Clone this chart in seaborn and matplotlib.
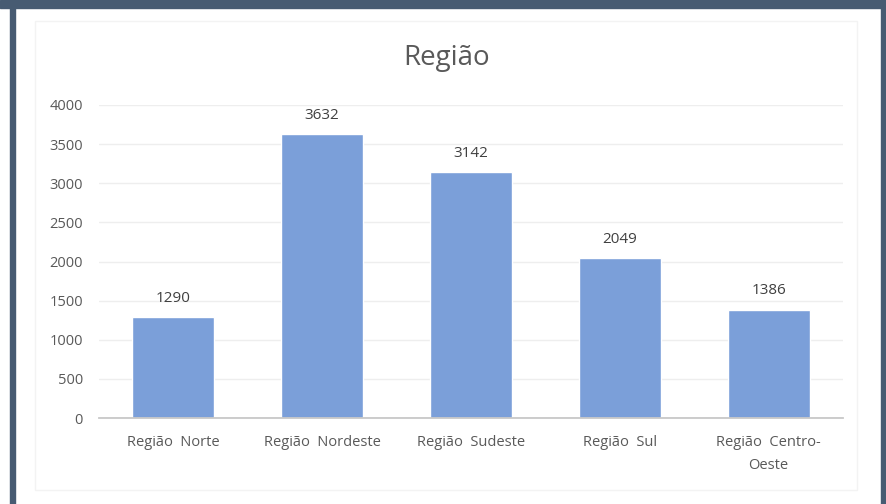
import matplotlib
matplotlib.use("Agg")
import matplotlib.pyplot as plt
import seaborn as sns
import pandas as pd
from matplotlib.patches import Rectangle

categorias = ["Região  Norte", "Região  Nordeste", "Região  Sudeste", "Região  Sul", "Região  Centro-\nOeste"]
valores = [1290, 3632, 3142, 2049, 1386]
yticks = [0, 500, 1000, 1500, 2000, 2500, 3000, 3500, 4000]

sns.set_theme(style="white")
plt.rcParams['font.family'] = ['Open Sans', 'DejaVu Sans']

df = pd.DataFrame({"cat": categorias, "val": valores})

fig = plt.figure(figsize=(8.86, 5.04), dpi=100)
ax = fig.add_axes([99/886, 1-418/504, (843-99)/886, (418-105)/504])

sns.barplot(data=df, x="cat", y="val", color="#7b9fd9", width=0.55, ax=ax, saturation=1)

ax.set_ylim(0, 4000)
ax.set_xlim(-0.5, 4.5)
ax.set_yticks(yticks)
ax.set_yticklabels([str(t) for t in yticks], color="#595959", fontsize=10.5)
ax.set_xticks(range(len(categorias)))
ax.set_xticklabels(categorias, color="#595959", fontsize=10.5, linespacing=1.75)
ax.tick_params(axis="both", length=0)
ax.tick_params(axis="y", pad=11.5)
ax.tick_params(axis="x", pad=12)
ax.set_xlabel("")
ax.set_ylabel("")
ax.yaxis.grid(True, color="#eeeeee", linewidth=1)
ax.set_axisbelow(True)
for s in ["top", "right", "left"]:
    ax.spines[s].set_visible(False)
ax.spines["bottom"].set_color("#c8c8c8")
ax.spines["bottom"].set_linewidth(1.3)

for i, v in enumerate(valores):
    ax.annotate(str(v), (i, v), xytext=(0, 8), textcoords="offset points",
                ha="center", va="bottom", fontsize=11, color="#404040")

fig.text(447/886, 1-58/504, "Região", ha="center", va="center", fontsize=20, color="#595959")

# faint chart area frame
fig.patches.append(Rectangle((35/886, 1-490/504), (857-35)/886, (490-21)/504,
                             transform=fig.transFigure, fill=False, edgecolor="#f3f3f3", linewidth=1))
# dark border
bc = "#475b72"
fig.patches.append(Rectangle((0, 1-8/504), 1, 8/504, transform=fig.transFigure, color=bc, zorder=10))
fig.patches.append(Rectangle((10/886, 0), 5/886, 1, transform=fig.transFigure, color=bc, zorder=10))
fig.patches.append(Rectangle((881/886, 0), 5/886, 1, transform=fig.transFigure, color=bc, zorder=10))

fig.savefig("out.png", dpi=100)
